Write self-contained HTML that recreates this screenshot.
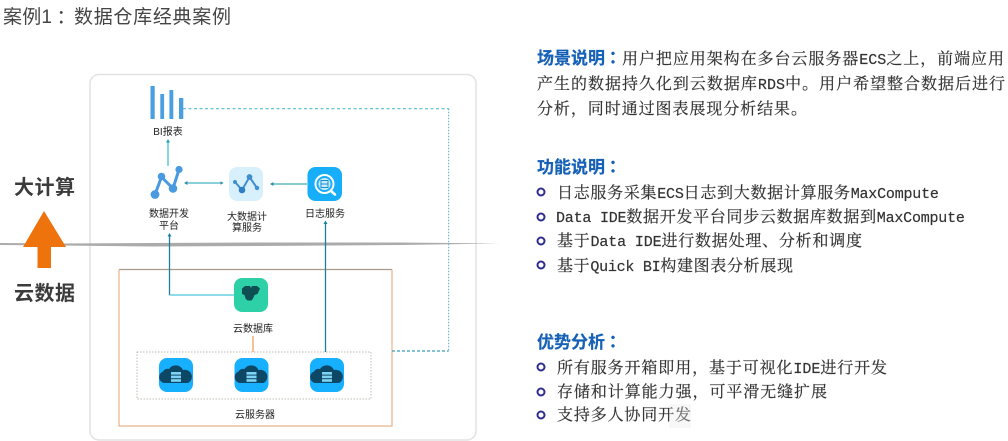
<!DOCTYPE html>
<html lang="zh">
<head>
<meta charset="utf-8">
<title>数据仓库经典案例</title>
<style>
html,body{margin:0;padding:0;background:#fff;width:1008px;height:441px;overflow:hidden}
svg{display:block}
.b{font-family:"Noto Serif CJK SC",serif;font-size:16px;fill:#333;stroke:#333;stroke-width:.2px}
.b tspan{font-family:"Liberation Mono",monospace;font-size:15px;letter-spacing:-.9px}
.h{font-family:"Liberation Sans","Noto Sans CJK SC",sans-serif;font-size:17px;font-weight:700;fill:#1560b5;stroke:#1560b5;stroke-width:.2px}
.c{font-family:"Noto Sans CJK TC",sans-serif}
.l{font-family:"Liberation Sans","Noto Sans CJK SC",sans-serif;font-size:10px;fill:#222;text-anchor:middle}
.s{font-family:"Liberation Sans","Noto Sans CJK SC",sans-serif;font-size:20px;font-weight:700;fill:#3a3a3a}
.t{font-family:"Liberation Sans","Noto Sans CJK SC",sans-serif;font-size:19px;fill:#444}
.dot{fill:#fff;stroke:#2f2f8f;stroke-width:2}
</style>
</head>
<body>
<svg width="1008" height="441" viewBox="0 0 1008 441" xmlns="http://www.w3.org/2000/svg">
<defs>
<filter id="soft" x="-5%" y="-5%" width="110%" height="110%"><feGaussianBlur stdDeviation="0.35"/></filter>
<g id="cloud">
  <path d="M-12 7 a6 6 0 0 1 -1 -11.5 a5 5 0 0 1 6 -2.5 a8 8 0 0 1 14 1 a7 7 0 0 1 5 13 z" fill="#0f4766" transform="translate(0,1)"/>
  <rect x="-5" y="-3" width="10" height="2.6" fill="#7fd4f5"/>
  <rect x="-5" y="0.6" width="10" height="2.6" fill="#7fd4f5"/>
  <rect x="-5" y="4.2" width="10" height="2.6" fill="#7fd4f5"/>
</g>
</defs>
<rect width="1008" height="441" fill="#fff"/>
<g filter="url(#soft)">
<!-- title -->
<text class="t" x="3" y="23" textLength="49" lengthAdjust="spacing">案例1</text>
<text class="t c" x="56.500" y="23">：</text>
<text class="t" x="74" y="23" textLength="157" lengthAdjust="spacing">数据仓库经典案例</text>

<!-- main panel -->
<rect x="90" y="74.500" width="386" height="365.500" rx="9" fill="#fff" stroke="#e2e2e2" stroke-width="1.500"/>

<!-- divider -->
<path d="M0 243 L60 243.500 L150 243 L260 242.500 L400 242.500 L500 243.500 L400 245 L260 246 L150 246.500 L60 245.500 L0 245 Z" fill="#ababab"/>

<!-- left labels + arrow -->
<text class="s" x="14" y="194" textLength="61" lengthAdjust="spacing">大计算</text>
<text class="s" x="14" y="300" textLength="61" lengthAdjust="spacing">云数据</text>
<path d="M44 211 L66 247 L51 247 L51 268 L37.500 268 L37.500 247 L23 247 Z" fill="#ee7311"/>

<!-- boxes -->
<path d="M119 269.500 H392" stroke="#aa9a8a" stroke-width="1.200" fill="none"/>
<path d="M119 269.500 V426 H392 V269.500" stroke="#e6b48e" stroke-width="1.200" fill="none"/>
<rect x="137" y="352" width="234" height="47" fill="none" stroke="#c0b9b0" stroke-width="1" stroke-dasharray="1.500 1.500"/>

<!-- connectors -->
<path d="M183 108.700 H448.700" stroke="#55bdd0" stroke-width="1.200" stroke-dasharray="3 2.500" fill="none"/>
<path d="M448.700 108.700 V351" stroke="#55a9c5" stroke-width="1" stroke-dasharray="1.500 1.500" fill="none"/>
<path d="M392 351 H448.700" stroke="#3b9dbd" stroke-width="1.200" stroke-dasharray="3 2" fill="none"/>
<path d="M168 166 V141" stroke="#5ccbdc" stroke-width="1.500" fill="none"/>
<path d="M168 139 l-2 3.500 h4 z" fill="#2c9cb5"/>
<path d="M186 183 H222" stroke="#45b5c4" stroke-width="1.300" fill="none"/>
<path d="M184 183 l3.500 -2 v4 z" fill="#2f8fa5"/>
<path d="M223.500 183 l-3 -1.800 v3.600 z" fill="#2f8fa5"/>
<path d="M272 184 H307" stroke="#45aab8" stroke-width="1.300" fill="none"/>
<path d="M270 184 l3.500 -2 v4 z" fill="#2f8fa5"/>
<path d="M169.500 236 V295" stroke="#1d809c" stroke-width="1.300" fill="none"/>
<path d="M169.500 295 H234" stroke="#4cc6dc" stroke-width="1.300" fill="none"/>
<path d="M169.500 233 l-2 3.500 h4 z" fill="#1d809c"/>
<path d="M325.500 223 V352" stroke="#1a7fa8" stroke-width="1.300" fill="none"/>
<path d="M325.500 220.500 l-2 3.500 h4 z" fill="#1a7fa8"/>
<path d="M253 336 V352" stroke="#f0a868" stroke-width="1.400" fill="none"/>

<!-- BI icon -->
<g fill="#4a9fe0">
<rect x="150.500" y="86" width="4.200" height="33"/>
<rect x="160.300" y="94" width="3.800" height="25"/>
<rect x="169.400" y="90" width="3.900" height="29"/>
<rect x="179" y="98" width="4.300" height="21"/>
</g>
<text class="l" x="168" y="135">BI报表</text>

<!-- data dev icon -->
<g>
<path d="M155 194.500 L161.500 177 L173 188.500 L179 169.500" fill="none" stroke="#4a9ae0" stroke-width="3"/>
<circle cx="155" cy="194.500" r="4.400" fill="#4a9ae0"/>
<circle cx="161.500" cy="176.500" r="3.800" fill="#4a9ae0"/>
<circle cx="173" cy="188.500" r="4.300" fill="#4a9ae0"/>
<circle cx="179" cy="169.500" r="3.600" fill="#4a9ae0"/>
</g>
<text class="l" x="169" y="217">数据开发</text>
<text class="l" x="169" y="229">平台</text>

<!-- big data icon -->
<rect x="229" y="167" width="34" height="34" rx="8" fill="#d8f0fb"/>
<path d="M235 182 L242 190 L249.500 177 L257 188" fill="none" stroke="#3f8fd0" stroke-width="2"/>
<circle cx="235" cy="182" r="2" fill="#3f8fd0"/>
<circle cx="242" cy="190" r="3.300" fill="#2f7fc5"/>
<circle cx="249.500" cy="177" r="2.900" fill="#3f8fd0"/>
<circle cx="257" cy="188" r="2.200" fill="#3f8fd0"/>
<text class="l" x="247" y="220">大数据计</text>
<text class="l" x="247" y="231">算服务</text>

<!-- log icon -->
<rect x="307.500" y="167" width="34.500" height="34" rx="8" fill="#16aef8"/>
<circle cx="324.500" cy="184" r="9" fill="none" stroke="#fff" stroke-width="2"/>
<circle cx="324.500" cy="184" r="6" fill="#c8ecfb"/>
<rect x="321" y="180.500" width="7" height="7" fill="none" stroke="#1f8fd0" stroke-width="1"/>
<path d="M321.500 184 H327.500" stroke="#1f8fd0" stroke-width="1"/>
<path d="M331 191 L335 194.500" stroke="#fff" stroke-width="2.500" stroke-linecap="round"/>
<text class="l" x="325" y="217">日志服务</text>

<!-- db icon -->
<rect x="234" y="278" width="34" height="34" rx="8" fill="#2fd0a8"/>
<path d="M242 288.500 l3 -2.500 h5 l1 2 l1 -2 h5 l3 2.500 l-2.500 5.500 l-3 1 l-1.500 3.500 l-1.500 2 h-4 l-2 -2 l-1 -3.500 l-2.500 -1 z" fill="#0f4f52"/>
<text class="l" x="253" y="332">云数据库</text>

<!-- server icons -->
<rect x="159" y="358" width="34" height="34" rx="8" fill="#16b0ff"/>
<use href="#cloud" x="176" y="375"/>
<rect x="234.500" y="358" width="34" height="34" rx="8" fill="#16b0ff"/>
<use href="#cloud" x="251.500" y="375"/>
<rect x="310" y="358" width="34" height="34" rx="8" fill="#16b0ff"/>
<use href="#cloud" x="327" y="375"/>
<text class="l" x="255" y="418">云服务器</text>

<!-- right column -->
<text class="h" x="537" y="64" textLength="68" lengthAdjust="spacing">场景说明</text>
<text class="h c" x="604.500" y="64">：</text>
<text class="b" x="622" y="64" textLength="382" lengthAdjust="spacing">用户把应用架构在多台云服务器<tspan>ECS</tspan>之上，前端应用</text>
<text class="b" x="537" y="89" textLength="468" lengthAdjust="spacing">产生的数据持久化到云数据库<tspan>RDS</tspan>中。用户希望整合数据后进行</text>
<text class="b" x="537" y="114" textLength="270" lengthAdjust="spacing">分析，同时通过图表展现分析结果。</text>

<text class="h" x="537" y="173" textLength="68" lengthAdjust="spacing">功能说明</text>
<text class="h c" x="604.500" y="173">：</text>
<circle class="dot" cx="541" cy="192" r="3.500"/>
<text class="b" x="557" y="198" textLength="381" lengthAdjust="spacing">日志服务采集<tspan>ECS</tspan>日志到大数据计算服务<tspan>MaxCompute</tspan></text>
<circle class="dot" cx="541" cy="217" r="3.500"/>
<text class="b" x="556" y="222" textLength="408" lengthAdjust="spacing"><tspan>Data IDE</tspan>数据开发平台同步云数据库数据到<tspan>MaxCompute</tspan></text>
<circle class="dot" cx="541" cy="241" r="3.500"/>
<text class="b" x="557" y="246" textLength="305" lengthAdjust="spacing">基于<tspan>Data IDE</tspan>进行数据处理、分析和调度</text>
<circle class="dot" cx="541" cy="265" r="3.500"/>
<text class="b" x="557" y="271" textLength="236" lengthAdjust="spacing">基于<tspan>Quick BI</tspan>构建图表分析展现</text>

<text class="h" x="537" y="348" textLength="68" lengthAdjust="spacing">优势分析</text>
<text class="h c" x="604.500" y="348">：</text>
<circle class="dot" cx="541" cy="367" r="3.500"/>
<text class="b" x="557" y="373" textLength="330" lengthAdjust="spacing">所有服务开箱即用，基于可视化<tspan>IDE</tspan>进行开发</text>
<circle class="dot" cx="541" cy="392" r="3.500"/>
<text class="b" x="557" y="397" textLength="270" lengthAdjust="spacing">存储和计算能力强，可平滑无缝扩展</text>
<circle class="dot" cx="541" cy="415" r="3.500"/>
<text class="b" x="557" y="420" textLength="134" lengthAdjust="spacing">支持多人协同开发</text>
<rect x="669" y="404" width="22" height="24" fill="#e8e8e8" opacity="0.350"/>
</g>
</svg>
</body>
</html>
